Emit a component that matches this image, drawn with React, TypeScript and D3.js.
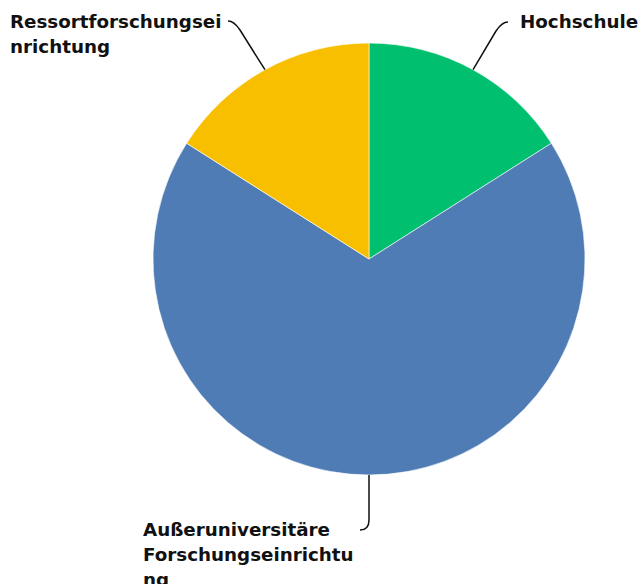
import React from "react";
import * as d3 from "d3";

const categories = ["Hochschule", "Außeruniversitäre Forschungseinrichtung", "Ressortforschungseinrichtung"];
const values = [4, 17, 4];
const colors = ["#00BF6F", "#4F7CB5", "#F8BF00"];
const labelLines = [["Hochschule"], ["Außeruniversitäre", "Forschungseinrichtu", "ng"], ["Ressortforschungsei", "nrichtung"]];

const W = 644, H = 584;
const cx = 369, cy = 259, R = 216;

export default function App() {
  const pie = d3.pie<number>().sort(null).value((d) => d);
  const arcs = pie(values);
  const arc = d3.arc<d3.PieArcDatum<number>>().innerRadius(0).outerRadius(R);

  const labelPos = [
    { x: 520, y: 28, end: [508, 22] },
    { x: 143, y: 536, end: [360, 530] },
    { x: 10, y: 28, end: [228, 21] },
  ];

  const leader = (i: number) => {
    const a = arcs[i];
    const mid = (a.startAngle + a.endAngle) / 2;
    const sx = cx + R * Math.sin(mid);
    const sy = cy - R * Math.cos(mid);
    const [ex, ey] = labelPos[i].end;
    const p = d3.path();
    p.moveTo(sx, sy);
    if (i === 1) {
      p.lineTo(sx, ey - 10);
      p.quadraticCurveTo(sx, ey, ex, ey);
    } else {
      const dir = ex > sx ? 1 : -1;
      const kx = ex - dir * 12;
      const ky = ey + 9;
      p.lineTo(kx, ky);
      p.quadraticCurveTo(ex - dir * 6, ey, ex, ey);
    }
    return p.toString();
  };

  return (
    <svg width={W} height={H} style={{ position: "absolute", left: 0, top: 0 }}>
      <g transform={`translate(${cx},${cy})`}>
        {arcs.map((a, i) => (
          <path key={i} d={arc(a) || ""} fill={colors[i]} stroke="#ffffff" strokeWidth={0.6} />
        ))}
      </g>
      {arcs.map((_, i) => (
        <path key={"l" + i} d={leader(i)} fill="none" stroke="#111" strokeWidth={1.5} />
      ))}
      {labelLines.map((lines, i) => (
        <text key={"t" + i} x={labelPos[i].x} y={labelPos[i].y} fontFamily="'DejaVu Sans', sans-serif" fontWeight={700} fontSize={18.3} fill="#111">
          {lines.map((ln, j) => (
            <tspan key={j} x={labelPos[i].x} dy={j === 0 ? 0 : 25}>{ln}</tspan>
          ))}
        </text>
      ))}
    </svg>
  );
}
